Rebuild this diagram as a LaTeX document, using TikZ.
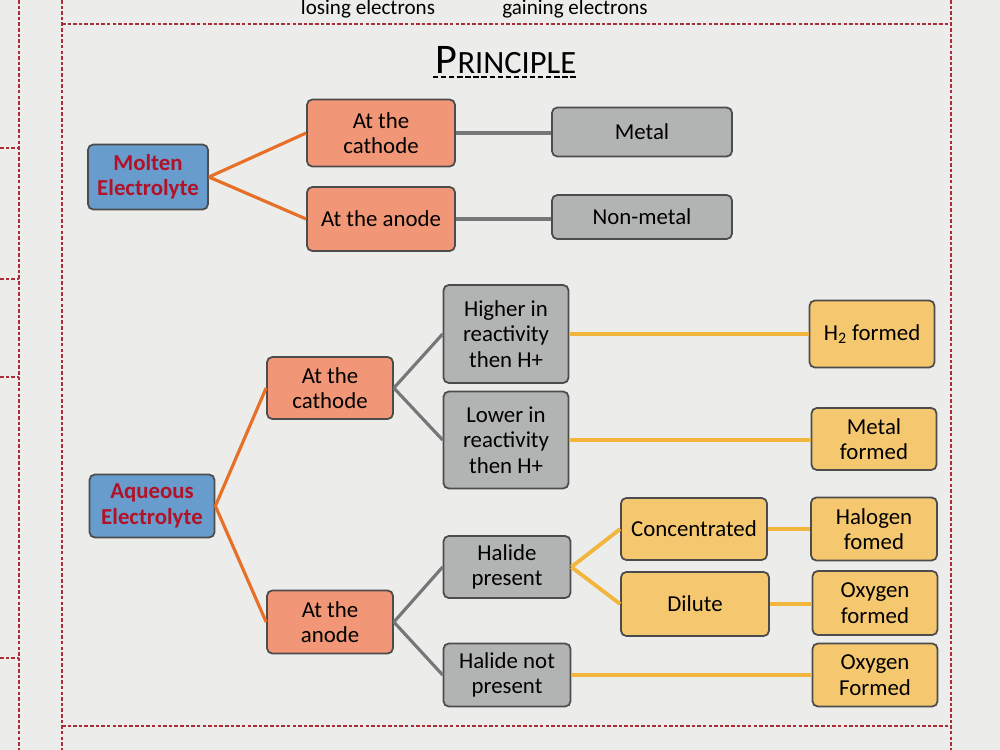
\documentclass[tikz,border=0pt]{standalone}
\usepackage{fontspec}
\setmainfont{Carlito}
\definecolor{bgpage}{RGB}{236,236,234}
\definecolor{blubox}{RGB}{104,156,204}
\definecolor{salbox}{RGB}{241,150,118}
\definecolor{grybox}{RGB}{178,180,179}
\definecolor{ylwbox}{RGB}{245,200,112}
\definecolor{redtxt}{RGB}{178,18,40}
\definecolor{orgline}{RGB}{230,112,40}
\definecolor{gryline}{RGB}{118,120,120}
\definecolor{ylwline}{RGB}{242,182,62}
\definecolor{frameline}{RGB}{170,45,55}
\begin{document}
\begin{tikzpicture}[x=0.02cm,y=-0.02cm,
  box/.style={draw=black!70,line width=1pt,rounded corners=3pt,align=center,
    inner sep=1pt,font=\fontsize{13}{14.5}\selectfont},
  blue/.style={box,fill=blubox,text=redtxt,font=\fontsize{13}{14.5}\selectfont\bfseries},
  salmon/.style={box,fill=salbox},
  grey/.style={box,fill=grybox},
  yellow/.style={box,fill=ylwbox},
  oline/.style={orgline,line width=1.8pt},
  gline/.style={gryline,line width=1.8pt},
  yline/.style={ylwline,line width=2.2pt},
  frame/.style={frameline,line width=0.6pt,dash pattern=on 2pt off 1.2pt}]
\fill[bgpage] (0,0) rectangle (1000,750);
\useasboundingbox (0,0) rectangle (1000,750);
\draw[frame] (19,0) -- (19,750);
\draw[frame] (62,0) -- (62,750);
\draw[frame] (951,0) -- (951,750);
\draw[frame] (62,24) -- (951,24);
\draw[frame] (62,726) -- (951,726);
\draw[frame] (0,148) -- (19,148);
\draw[frame] (0,279) -- (19,279);
\draw[frame] (0,377) -- (19,377);
\draw[frame] (0,658) -- (19,658);
\node[anchor=base,inner sep=0pt,font=\fontsize{12}{14}\selectfont] (lose) at (368,15) {losing electrons};
\node[anchor=base,inner sep=0pt,font=\fontsize{12}{14}\selectfont] (gain) at (575,15) {gaining electrons};
\node[inner sep=0pt] (title) at (506,60) {{\fontsize{24}{26}\selectfont P}{\fontsize{18.5}{20}\selectfont RINCIPLE}};
\draw[line width=1.3pt,dash pattern=on 3pt off 1.6pt] (433,77) -- (578,77);
\node[blue,minimum width=2.4cm,minimum height=1.3cm] (molten) at (148,177) {Molten\\Electrolyte};
\node[salmon,minimum width=2.96cm,minimum height=1.34cm] (mcath) at (381,133) {At the\\cathode};
\node[salmon,minimum width=2.96cm,minimum height=1.28cm] (manode) at (381,219) {At the anode};
\node[grey,minimum width=3.6cm,minimum height=0.98cm] (metal) at (642,132) {Metal};
\node[grey,minimum width=3.6cm,minimum height=0.88cm] (nonmetal) at (642,217) {Non-metal};
\draw[oline] (molten.east) -- (mcath.west);
\draw[oline] (molten.east) -- (manode.west);
\draw[gline,line width=2.4pt] (mcath.east) -- (mcath.east -| metal.west);
\draw[gline,line width=2.4pt] (manode.east) -- (manode.east -| nonmetal.west);
\node[blue,minimum width=2.5cm,minimum height=1.26cm] (aqueous) at (152,506) {Aqueous\\Electrolyte};
\node[salmon,minimum width=2.52cm,minimum height=1.24cm] (acath) at (330,388) {At the\\cathode};
\node[salmon,minimum width=2.52cm,minimum height=1.26cm] (aanode) at (330,622) {At the\\anode};
\node[grey,minimum width=2.5cm,minimum height=1.96cm] (higher) at (506,334) {Higher in\\reactivity\\then H+};
\node[grey,minimum width=2.5cm,minimum height=1.94cm] (lower) at (506,440) {Lower in\\reactivity\\then H+};
\node[grey,minimum width=2.54cm,minimum height=1.24cm] (hpres) at (507,567) {Halide\\present};
\node[grey,minimum width=2.54cm,minimum height=1.26cm] (hnot) at (507,675) {Halide not\\present};
\node[yellow,minimum width=2.92cm,minimum height=1.24cm] (conc) at (694,529) {Concentrated};
\node[yellow,minimum width=2.96cm,minimum height=1.28cm] (dilute) at (695,604) {Dilute};
\node[yellow,minimum width=2.5cm,minimum height=1.34cm] (htwo) at (872,334) {H\textsubscript{2} formed};
\node[yellow,minimum width=2.5cm,minimum height=1.24cm] (metalf) at (874,439) {Metal\\formed};
\node[yellow,minimum width=2.52cm,minimum height=1.26cm] (halogen) at (874,529) {Halogen\\fomed};
\node[yellow,minimum width=2.5cm,minimum height=1.28cm] (oxyone) at (875,603) {Oxygen\\formed};
\node[yellow,minimum width=2.5cm,minimum height=1.26cm] (oxytwo) at (875,675) {Oxygen\\Formed};
\draw[oline] (aqueous.east) -- (acath.west);
\draw[oline] (aqueous.east) -- (aanode.west);
\draw[gline] (acath.east) -- (higher.west);
\draw[gline] (acath.east) -- (lower.west);
\draw[gline] (aanode.east) -- (hpres.west);
\draw[gline] (aanode.east) -- (hnot.west);
\draw[yline] (hpres.east) -- (conc.west);
\draw[yline] (hpres.east) -- (dilute.west);
\draw[yline] (higher.east) -- (higher.east -| htwo.west);
\draw[yline] (lower.east) -- (lower.east -| metalf.west);
\draw[yline] (conc.east) -- (conc.east -| halogen.west);
\draw[yline] (dilute.east) -- (dilute.east -| oxyone.west);
\draw[yline] (hnot.east) -- (hnot.east -| oxytwo.west);
\end{tikzpicture}
\end{document}
